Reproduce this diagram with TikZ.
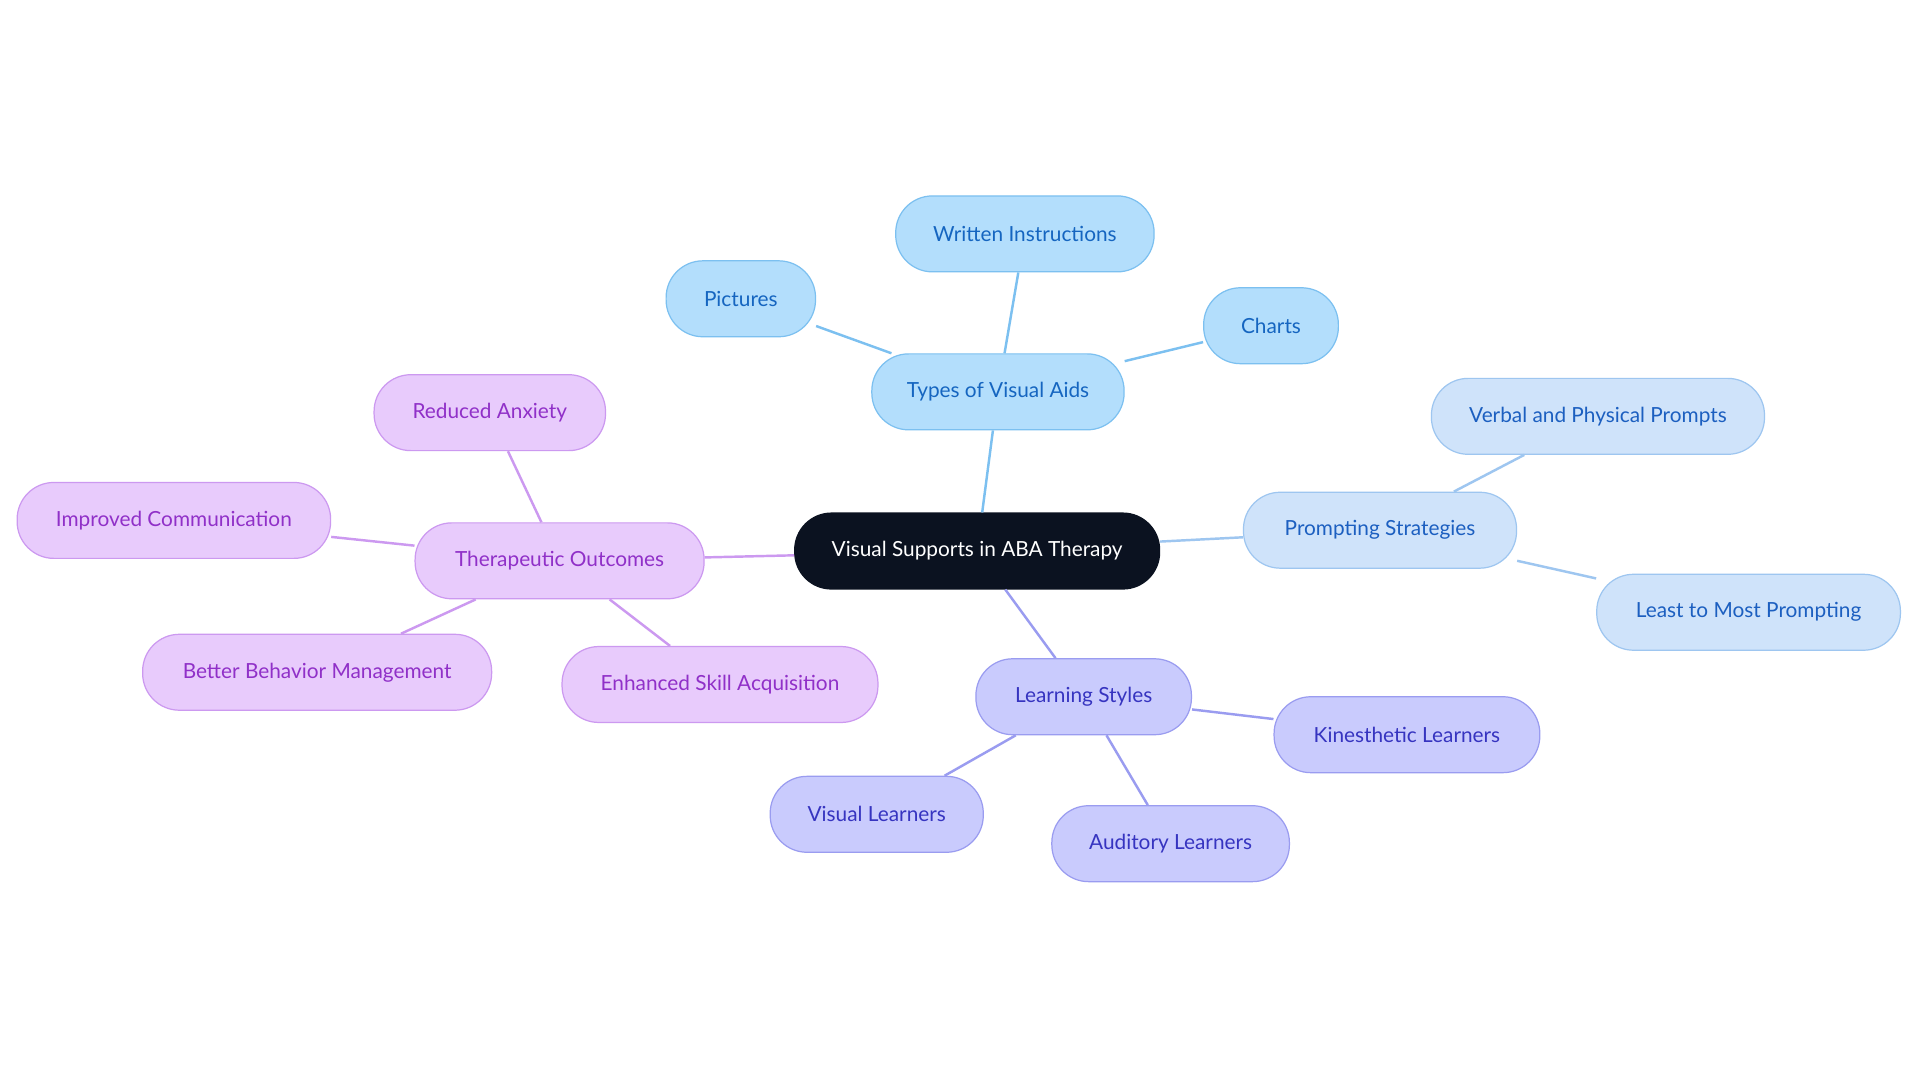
\documentclass[tikz,border=0pt]{standalone}
\usepackage{fontspec}
\setmainfont{Lato}
\begin{document}
\begin{tikzpicture}[x=1pt,y=-1pt,
  box/.style={draw,line width=1pt,rounded corners=30pt,minimum height=62pt,inner sep=0pt,font=\fontsize{17}{20}\selectfont},
  bl/.style={box,fill=blue!0!cyan!0!white,fill={rgb,255:red,179;green,222;blue,252},draw={rgb,255:red,124;green,192;blue,240},text={rgb,255:red,21;green,101;blue,192}},
  pr/.style={box,fill={rgb,255:red,207;green,227;blue,250},draw={rgb,255:red,158;green,198;blue,240},text={rgb,255:red,28;green,95;blue,192}},
  le/.style={box,fill={rgb,255:red,201;green,203;blue,253},draw={rgb,255:red,154;green,156;blue,240},text={rgb,255:red,54;green,52;blue,192}},
  th/.style={box,fill={rgb,255:red,232;green,203;blue,252},draw={rgb,255:red,204;green,153;blue,240},text={rgb,255:red,144;green,48;blue,200}},
  eb/.style={line width=2pt,draw={rgb,255:red,124;green,192;blue,240}},
  ep/.style={line width=2pt,draw={rgb,255:red,158;green,198;blue,240}},
  el/.style={line width=2pt,draw={rgb,255:red,154;green,156;blue,240}},
  et/.style={line width=2pt,draw={rgb,255:red,204;green,153;blue,240}}]
\useasboundingbox[fill=white] (0,0) rectangle (1568,884.5);
\node[box,fill={rgb,255:red,11;green,18;blue,32},draw={rgb,255:red,11;green,18;blue,32},text=white,minimum width=298pt] (c) at (798,450) {Visual Supports in ABA Therapy};
\node[bl,minimum width=206pt] (t) at (815,320) {Types of Visual Aids};
\node[bl,minimum width=211pt] (t1) at (837,191) {Written Instructions};
\node[bl,minimum width=122pt] (t2) at (605,244) {Pictures};
\node[bl,minimum width=110pt] (t3) at (1038,266) {Charts};
\node[pr,minimum width=223pt] (p) at (1127,433) {Prompting Strategies};
\node[pr,minimum width=272pt] (p1) at (1305,340) {Verbal and Physical Prompts};
\node[pr,minimum width=248pt] (p2) at (1428,500) {Least to Most Prompting};
\node[le,minimum width=176pt] (l) at (885,569) {Learning Styles};
\node[le,minimum width=217pt] (l1) at (1149,600) {Kinesthetic Learners};
\node[le,minimum width=194pt] (l2) at (956,689) {Auditory Learners};
\node[le,minimum width=174pt] (l3) at (716,665) {Visual Learners};
\node[th,minimum width=236pt] (o) at (457,458) {Therapeutic Outcomes};
\node[th,minimum width=189pt] (o1) at (400,337) {Reduced Anxiety};
\node[th,minimum width=256pt] (o2) at (142,425) {Improved Communication};
\node[th,minimum width=285pt] (o3) at (259,549) {Better Behavior Management};
\node[th,minimum width=258pt] (o4) at (588,559) {Enhanced Skill Acquisition};
\begin{scope}[on background layer/.style={}]
\end{scope}
\draw[eb] (c) -- (t); \draw[eb] (t) -- (t1); \draw[eb] (t) -- (t2); \draw[eb] (t) -- (t3);
\draw[ep] (c) -- (p); \draw[ep] (p) -- (p1); \draw[ep] (p) -- (p2);
\draw[el] (c) -- (l); \draw[el] (l) -- (l1); \draw[el] (l) -- (l2); \draw[el] (l) -- (l3);
\draw[et] (c) -- (o); \draw[et] (o) -- (o1); \draw[et] (o) -- (o2); \draw[et] (o) -- (o3); \draw[et] (o) -- (o4);
\end{tikzpicture}
\end{document}
